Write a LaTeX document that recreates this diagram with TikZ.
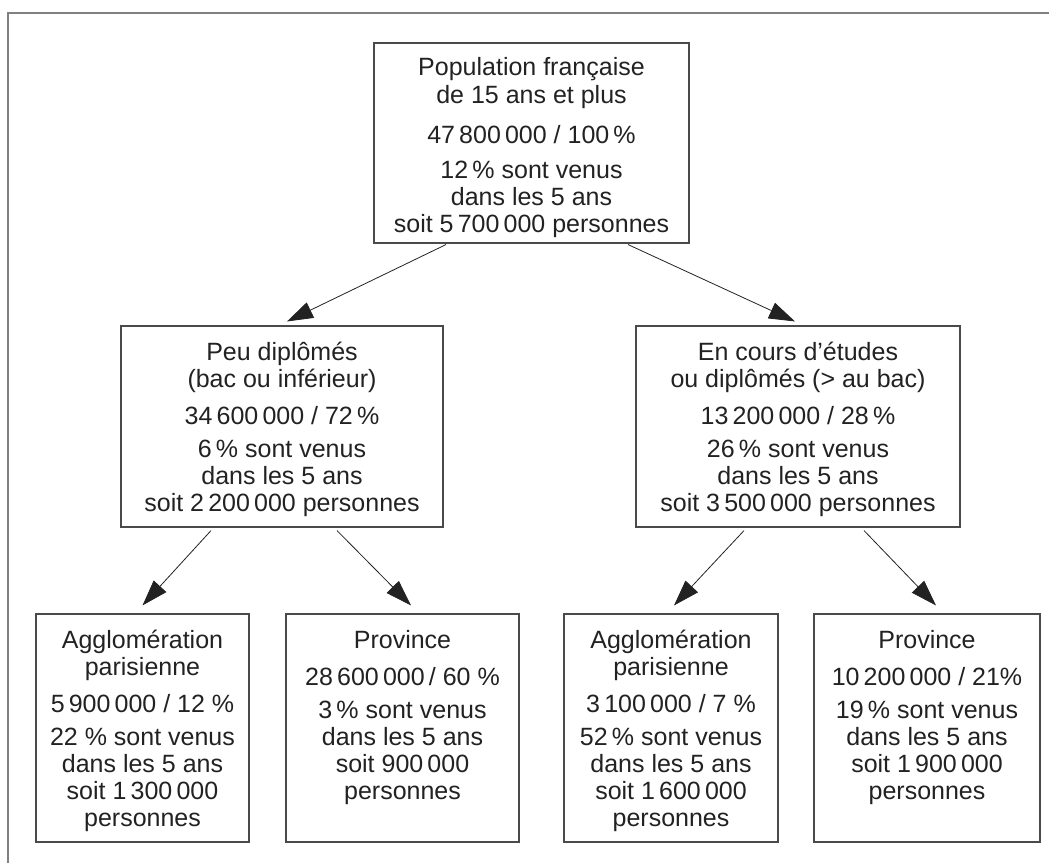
\documentclass[tikz,border=0pt]{standalone}
\usepackage{fontspec}
\setmainfont{Liberation Sans}
\usetikzlibrary{arrows.meta}
\definecolor{framegray}{HTML}{808080}
\definecolor{boxgray}{HTML}{4A4A4A}
\definecolor{inkgray}{HTML}{222222}
\tikzset{
  boxnode/.style={draw=boxgray, line width=1.1pt, inner sep=0pt, fill=white},
  txtnode/.style={align=center, anchor=north, inner sep=0pt, text=inkgray,
    font=\fontsize{25}{27}\selectfont},
  arr/.style={draw=inkgray, line width=0.8pt, -{Triangle[length=26pt,width=17pt]}},
  frameline/.style={draw=framegray, line width=2pt}
}
\begin{document}
\begin{tikzpicture}[x=1pt,y=-1pt]
\useasboundingbox (0,0) rectangle (1049,863);
% outer frame (top and left)
\coordinate (fa) at (8,863);
\coordinate (fb) at (8,13);
\coordinate (fc) at (1049,13);
\draw[frameline] (fa) -- (fb) -- (fc);

% boxes
\node[boxnode, minimum width=315pt, minimum height=200pt] (top) at (531.5,143) {};
\node[boxnode, minimum width=322pt, minimum height=201pt] (midl) at (282,426.5) {};
\node[boxnode, minimum width=324pt, minimum height=201pt] (midr) at (798,426.5) {};
\node[boxnode, minimum width=213pt, minimum height=228pt] (bl1) at (142.5,728) {};
\node[boxnode, minimum width=233pt, minimum height=228pt] (bl2) at (402.5,728) {};
\node[boxnode, minimum width=214pt, minimum height=228pt] (br1) at (671,728) {};
\node[boxnode, minimum width=226pt, minimum height=228pt] (br2) at (927,728) {};

% texts
\node[txtnode] (toptxt) at ([yshift=-15pt]top.north) {Population française\\[1pt]de 15 ans et plus\\[13pt]47\,800\,000 / 100\,\%\\[8pt]12\,\% sont venus\\dans les 5 ans\\soit 5\,700\,000 personnes};
\node[txtnode] (midltxt) at ([yshift=-16.5pt]midl.north) {Peu diplômés\\(bac ou inférieur)\\[10pt]34\,600\,000 / 72\,\%\\[6pt]6\,\% sont venus\\dans les 5 ans\\soit 2\,200\,000 personnes};
\node[txtnode] (midrtxt) at ([yshift=-16.5pt]midr.north) {En cours d’études\\ou diplômés (> au bac)\\[10pt]13\,200\,000 / 28\,\%\\[6pt]26\,\% sont venus\\dans les 5 ans\\soit 3\,500\,000 personnes};
\node[txtnode] (bl1txt) at ([yshift=-16.5pt]bl1.north) {Agglomération\\parisienne\\[10pt]5\,900\,000 / 12 \%\\[6pt]22 \% sont venus\\dans les 5 ans\\soit 1\,300\,000\\personnes};
\node[txtnode] (bl2txt) at ([yshift=-16.5pt]bl2.north) {Province\\[10pt]28\,600\,000\,/ 60 \%\\[6pt]3\,\% sont venus\\dans les 5 ans\\soit 900\,000\\personnes};
\node[txtnode] (br1txt) at ([yshift=-16.5pt]br1.north) {Agglomération\\parisienne\\[10pt]3\,100\,000 / 7 \%\\[6pt]52\,\% sont venus\\dans les 5 ans\\soit 1\,600\,000\\personnes};
\node[txtnode] (br2txt) at ([yshift=-16.5pt]br2.north) {Province\\[10pt]10\,200\,000 / 21\%\\[6pt]19\,\% sont venus\\dans les 5 ans\\soit 1\,900\,000\\personnes};

% arrows
\draw[arr] ([xshift=-85.5pt,yshift=-1pt]top.south) -- ([xshift=5pt,yshift=4pt]midl.north);
\draw[arr] ([xshift=96.5pt,yshift=-1pt]top.south) -- ([xshift=-3pt,yshift=4pt]midr.north);
\draw[arr] ([xshift=-71pt,yshift=-3pt]midl.south) -- ([xshift=0pt,yshift=8pt]bl1.north);
\draw[arr] ([xshift=55pt,yshift=-3pt]midl.south) -- ([xshift=8.5pt,yshift=8pt]bl2.north);
\draw[arr] ([xshift=-54pt,yshift=-3pt]midr.south) -- ([xshift=3pt,yshift=8pt]br1.north);
\draw[arr] ([xshift=66pt,yshift=-3pt]midr.south) -- ([xshift=9pt,yshift=8pt]br2.north);
\end{tikzpicture}
\end{document}
